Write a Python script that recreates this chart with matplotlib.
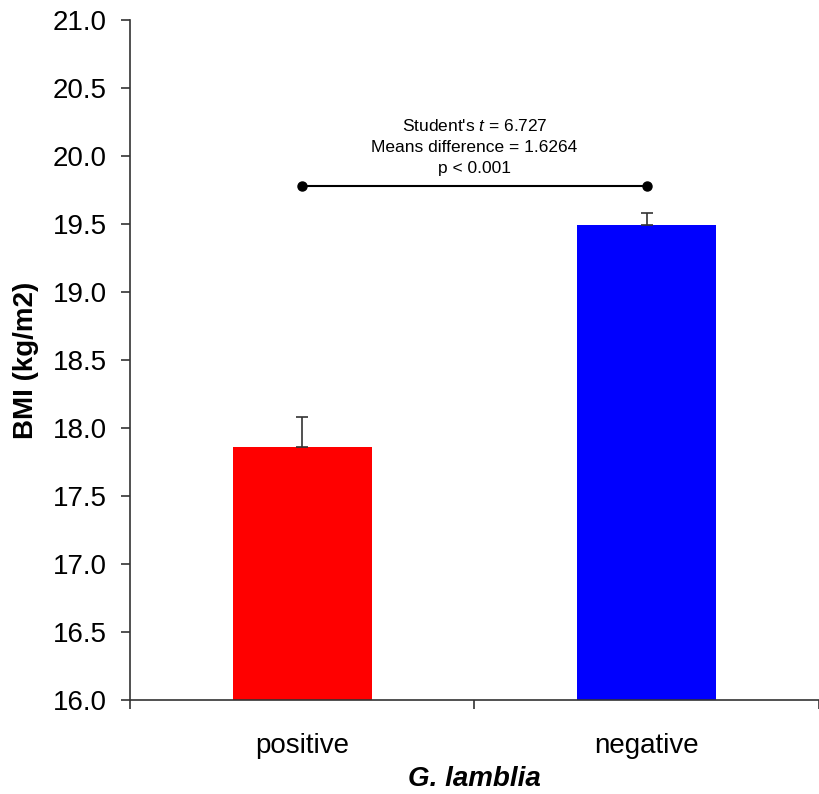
import matplotlib
matplotlib.use("Agg")
import matplotlib.pyplot as plt

# data
groups = ["positive", "negative"]
bmi_mean = [17.86, 19.49]
bmi_err = [0.22, 0.09]
bar_colors = ["#ff0000", "#0000ff"]
bracket_y = 19.78
stats_lines = ["Student's $t$ = 6.727", "Means difference = 1.6264", "p < 0.001"]

plt.rcParams["font.family"] = ["Liberation Sans", "DejaVu Sans"]
plt.rcParams["mathtext.fontset"] = "custom"
plt.rcParams["mathtext.rm"] = "Liberation Sans"
plt.rcParams["mathtext.it"] = "Liberation Sans:italic"

fig = plt.figure(figsize=(8.19, 7.94), dpi=100)
ax = fig.add_axes([0.1587, 0.1184, 0.8413, 0.8564])

x = [0.5, 1.5]
ax.bar(x, bmi_mean, width=0.403, color=bar_colors, bottom=0)
ax.errorbar(x, bmi_mean, yerr=[[0, 0], bmi_err], fmt="none",
            ecolor="#333333", elinewidth=1.2, capsize=4.5, capthick=1.2)

# significance bracket
ax.plot(x, [bracket_y, bracket_y], color="black", lw=1.5,
        marker="o", markersize=6.5)
ax.text(1.0, bracket_y + 0.07, "\n".join(stats_lines), ha="center",
        va="bottom", fontsize=12.5, linespacing=1.5)

ax.set_ylim(16, 21)
ax.set_xlim(0, 1.98)
ax.set_yticks([16 + 0.5 * i for i in range(11)])
ax.set_yticklabels([f"{16 + 0.5 * i:.1f}" for i in range(11)])
ax.set_xticks(x)
ax.set_xticklabels(groups)
ax.set_xticks([0, 1, 2], minor=True)

for side in ["top", "right"]:
    ax.spines[side].set_visible(False)
for side in ["left", "bottom"]:
    ax.spines[side].set_color("#333333")
    ax.spines[side].set_linewidth(1.2)

ax.tick_params(axis="y", direction="out", length=6.5, width=1.2,
               color="#333333", labelsize=20, pad=10)
ax.tick_params(axis="x", which="major", length=0, labelsize=20, pad=24)
ax.tick_params(axis="x", which="minor", direction="out", length=6.5,
               width=1.2, color="#333333")

ax.set_ylabel("BMI (kg/m2)", fontsize=20, fontweight="bold", labelpad=10)
ax.set_xlabel("G. lamblia", fontsize=20, fontweight="bold",
              fontstyle="italic", labelpad=5)

fig.savefig("out.png", dpi=100)
